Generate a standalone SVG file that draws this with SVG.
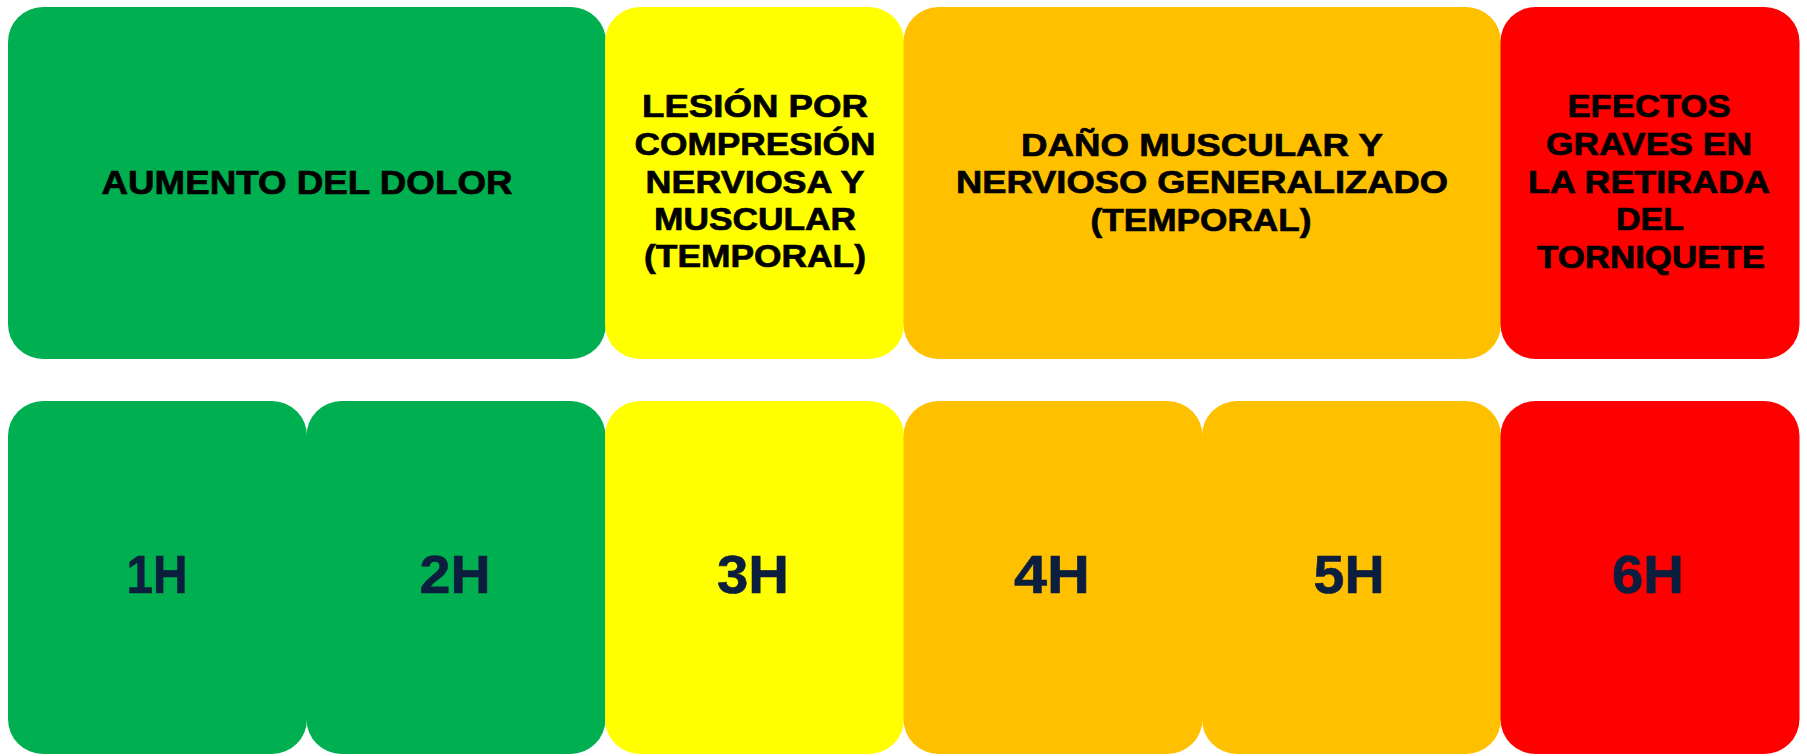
<svg xmlns="http://www.w3.org/2000/svg" width="1807" height="756" viewBox="0 0 1807 756">
<style>
.g{fill:#00AF50}
.y{fill:#FFFF00}
.o{fill:#FFC000}
.r{fill:#FF0000}
.t{font-family:"Liberation Sans",Arial,sans-serif;font-weight:bold;font-size:31.5px;fill:#000;stroke:#000;stroke-width:0.7px;text-anchor:middle}
.h{font-family:"Liberation Sans",Arial,sans-serif;font-weight:bold;font-size:53px;fill:#0C1E3D;stroke:#0C1E3D;stroke-width:0.6px;text-anchor:middle}
</style>
<rect width="1807" height="756" fill="#FFFFFF"/>
<g id="connectors"/>
<g id="top-aumento">
<rect class="g" x="8" y="7" width="598" height="352" rx="35"/>
<text class="t" style="font-size:33px" x="307" y="194" textLength="411" lengthAdjust="spacingAndGlyphs">AUMENTO DEL DOLOR</text>
</g>
<g id="top-lesion">
<rect class="y" x="605" y="7" width="299" height="352" rx="35"/>
<text class="t" x="755" y="117" textLength="226" lengthAdjust="spacingAndGlyphs">LESIÓN POR</text>
<text class="t" x="755" y="155" textLength="241" lengthAdjust="spacingAndGlyphs">COMPRESIÓN</text>
<text class="t" x="755" y="192.5" textLength="219" lengthAdjust="spacingAndGlyphs">NERVIOSA Y</text>
<text class="t" x="755" y="230" textLength="202" lengthAdjust="spacingAndGlyphs">MUSCULAR</text>
<text class="t" x="755" y="267" textLength="222" lengthAdjust="spacingAndGlyphs">(TEMPORAL)</text>
</g>
<g id="top-dano">
<rect class="o" x="903.5" y="7" width="597.5" height="352" rx="35"/>
<text class="t" x="1202" y="156" textLength="362" lengthAdjust="spacingAndGlyphs">DAÑO MUSCULAR Y</text>
<text class="t" x="1202" y="193" textLength="492" lengthAdjust="spacingAndGlyphs">NERVIOSO GENERALIZADO</text>
<text class="t" x="1201" y="230.5" textLength="221" lengthAdjust="spacingAndGlyphs">(TEMPORAL)</text>
</g>
<g id="top-efectos">
<rect class="r" x="1500.5" y="7" width="299" height="352" rx="35"/>
<text class="t" x="1649" y="117" textLength="163" lengthAdjust="spacingAndGlyphs">EFECTOS</text>
<text class="t" x="1649" y="155" textLength="206" lengthAdjust="spacingAndGlyphs">GRAVES EN</text>
<text class="t" x="1649" y="192.5" textLength="242" lengthAdjust="spacingAndGlyphs">LA RETIRADA</text>
<text class="t" x="1650" y="230" textLength="68" lengthAdjust="spacingAndGlyphs">DEL</text>
<text class="t" x="1651" y="268" textLength="228" lengthAdjust="spacingAndGlyphs">TORNIQUETE</text>
</g>
<g id="h1">
<rect class="g" x="8" y="401" width="299" height="353" rx="35"/>
<text class="h" x="157" y="593" textLength="61" lengthAdjust="spacingAndGlyphs">1H</text>
</g>
<g id="h2">
<rect class="g" x="306.5" y="401" width="299" height="353" rx="35"/>
<text class="h" x="455" y="593" textLength="71" lengthAdjust="spacingAndGlyphs">2H</text>
</g>
<g id="h3">
<rect class="y" x="605" y="401" width="299" height="353" rx="35"/>
<text class="h" x="753" y="593" textLength="72" lengthAdjust="spacingAndGlyphs">3H</text>
</g>
<g id="h4">
<rect class="o" x="903.5" y="401" width="299" height="353" rx="35"/>
<text class="h" x="1052" y="593" textLength="76" lengthAdjust="spacingAndGlyphs">4H</text>
</g>
<g id="h5">
<rect class="o" x="1202" y="401" width="299" height="353" rx="35"/>
<text class="h" x="1349" y="593" textLength="71" lengthAdjust="spacingAndGlyphs">5H</text>
</g>
<g id="h6">
<rect class="r" x="1500.5" y="401" width="299" height="353" rx="35"/>
<text class="h" x="1648" y="593" textLength="72" lengthAdjust="spacingAndGlyphs">6H</text>
</g>
</svg>
